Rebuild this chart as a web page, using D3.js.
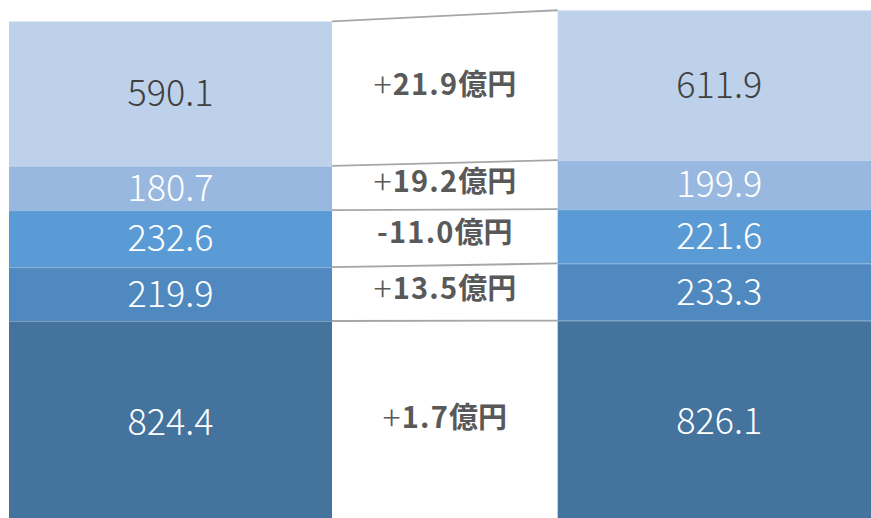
<!DOCTYPE html>
<html>
<head>
<meta charset="utf-8">
<script src="https://cdn.jsdelivr.net/npm/d3@7/dist/d3.min.js"></script>
<style>
  html, body { margin: 0; padding: 0; background: #ffffff; }
  svg { display: block; }
</style>
</head>
<body>
<script>
// Two periods, each a stack of five segments (bottom to top), in 億円
const periods = ["前期", "当期"];
const segments = ["s1", "s2", "s3", "s4", "s5"];
const prevValues = [824.4, 219.9, 232.6, 180.7, 590.1];
const currValues = [826.1, 233.3, 221.6, 199.9, 611.9];
// Change between periods as reported, per segment (bottom to top)
const diffLabels = ["+1.7", "+13.5", "-11.0", "+19.2", "+21.9"];
const segColors = ["#44739e", "#4f89bf", "#5b9bd5", "#98b8e0", "#bdd1ea"];
const labelColors = ["#ffffff", "#ffffff", "#ffffff", "#ffffff", "#404040"];

const W = 871, H = 518;
const svg = d3.select("body").append("svg")
  .attr("width", W).attr("height", H);

const x = d3.scaleBand()
  .domain(periods)
  .range([9, 880.7])
  .paddingInner(0.4113)
  .paddingOuter(0);

const y = d3.scaleLinear()
  .domain([0, 2134.7])
  .range([523, 0]);

// Build stacked layout
const table = periods.map((p, i) => {
  const row = { period: p };
  const vals = i === 0 ? prevValues : currValues;
  segments.forEach((s, j) => { row[s] = vals[j]; });
  return row;
});
const stacked = d3.stack().keys(segments)(table);

// Bars
const layers = svg.append("g").selectAll("g")
  .data(stacked)
  .join("g")
  .attr("fill", (d, i) => segColors[i]);

layers.selectAll("rect")
  .data(d => d.map(v => ({ v, key: d.key })))
  .join("rect")
  .attr("x", d => x(d.v.data.period))
  .attr("width", x.bandwidth())
  .attr("y", d => y(d.v[1]))
  .attr("height", d => y(d.v[0]) - y(d.v[1]));

// Faint separators between segments
layers.selectAll("line.sep")
  .data(d => d.map(v => v))
  .join("line")
  .attr("class", "sep")
  .attr("x1", d => x(d.data.period))
  .attr("x2", d => x(d.data.period) + x.bandwidth())
  .attr("y1", d => y(d[1]) + 0.5)
  .attr("y2", d => y(d[1]) + 0.5)
  .attr("stroke", "#ffffff")
  .attr("stroke-opacity", 0.3)
  .attr("stroke-width", 1);

// Value labels inside each segment
layers.selectAll("text")
  .data((d, i) => d.map(v => ({ v, i })))
  .join("text")
  .attr("x", d => x(d.v.data.period) + x.bandwidth() / 2)
  .attr("y", d => (y(d.v[0]) + y(d.v[1])) / 2 - 3.5)
  .attr("text-anchor", "middle")
  .attr("dominant-baseline", "central")
  .attr("font-family", "'Noto Sans CJK JP', 'Noto Sans', sans-serif")
  .attr("font-weight", 300)
  .attr("font-size", 36)
  .attr("fill", d => labelColors[d.i])
  .text(d => d3.format(".1f")(d.v[1] - d.v[0]));

// Connector lines between segment tops of the two bars
const xL = x(periods[0]) + x.bandwidth();
const xR = x(periods[1]);
const links = segments.map((s, j) => ({
  y0: y(stacked[j][0][1]),
  y1: y(stacked[j][1][1])
}));

svg.append("g").selectAll("line")
  .data(links)
  .join("line")
  .attr("x1", xL).attr("x2", xR)
  .attr("y1", d => d.y0).attr("y2", d => d.y1)
  .attr("stroke", "#a6a6a6")
  .attr("stroke-width", 1.8);

// Change labels between the bars
const mid = (xL + xR) / 2;
const diffG = svg.append("g");
segments.forEach((s, j) => {
  const lowY = (y(stacked[j][0][0]) + y(stacked[j][1][0])) / 2;
  const highY = (y(stacked[j][0][1]) + y(stacked[j][1][1])) / 2;
  const cy = (lowY + highY) / 2 - 7;
  const lab = diffLabels[j];
  const t = diffG.append("text")
    .attr("x", mid)
    .attr("y", cy)
    .attr("text-anchor", "middle")
    .attr("dominant-baseline", "central")
    .attr("font-family", "'Noto Sans CJK JP', 'Noto Sans', sans-serif")
    .attr("font-size", 29)
    .attr("fill", "#595959");
  if (lab[0] === "+") {
    t.append("tspan").attr("font-weight", 300).attr("font-size", 34).attr("dx", 0).text("+");
    t.append("tspan").attr("font-weight", 700).attr("letter-spacing", 1.2).attr("dx", 1).text(lab.slice(1));
  } else {
    t.append("tspan").attr("font-weight", 700).attr("letter-spacing", 1.2).text(lab);
  }
  t.append("tspan").attr("font-weight", 700).text("億円");
});
</script>
</body>
</html>
